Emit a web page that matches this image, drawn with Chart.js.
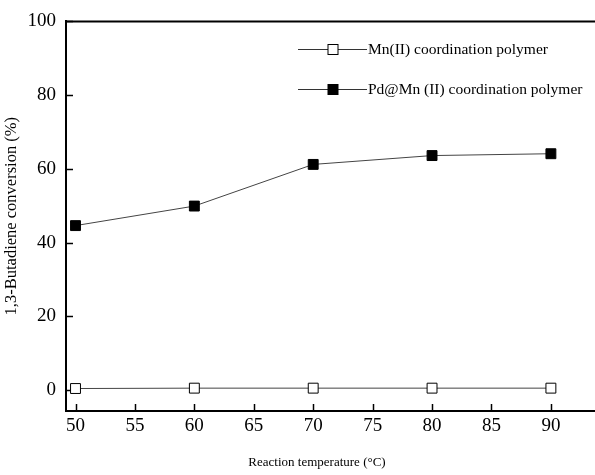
<!DOCTYPE html>
<html>
<head>
<meta charset="utf-8">
<script src="https://cdn.jsdelivr.net/npm/chart.js@4"></script>
<style>
  html, body { margin: 0; padding: 0; background: #fff; overflow: hidden; }
  #wrap { width: 595px; height: 475px; overflow: hidden; }
</style>
</head>
<body>
<div id="wrap"><canvas id="chart" width="610" height="475"></canvas></div>
<script>
// data
const temps = [50, 60, 70, 80, 90];
const mnConv = [0.4, 0.5, 0.5, 0.5, 0.5];
const pdConv = [44.6, 49.9, 61.2, 63.6, 64.1];
const xTicks = [50, 55, 60, 65, 70, 75, 80, 85, 90];
const yTicks = [0, 20, 40, 60, 80, 100];
const seriesNames = ['Mn(II) coordination polymer', 'Pd@Mn (II) coordination polymer'];

const serif = "'Liberation Serif', 'Times New Roman', serif";

function toPoints(ys) {
    return temps.map((t, i) => ({ x: t, y: ys[i] }));
}

// frame top line, inward ticks, legend and x title
const extras = {
    id: 'extras',
    beforeDatasetsDraw(chart) {
        const ctx = chart.ctx;
        const a = chart.chartArea;
        const xs = chart.scales.x, ys = chart.scales.y;
        ctx.save();
        ctx.strokeStyle = '#000';
        ctx.lineWidth = 2;
        ctx.beginPath();
        ctx.moveTo(a.left - 1, a.top);
        ctx.lineTo(a.right + 2, a.top);
        ctx.stroke();
        ctx.lineWidth = 1.5;
        xTicks.forEach(v => {
            const px = Math.round(xs.getPixelForValue(v)) + 0.5;
            ctx.beginPath();
            ctx.moveTo(px, a.bottom);
            ctx.lineTo(px, a.bottom - 7);
            ctx.stroke();
        });
        yTicks.forEach(v => {
            const py = Math.round(ys.getPixelForValue(v)) + 0.5;
            ctx.beginPath();
            ctx.moveTo(a.left, py);
            ctx.lineTo(a.left + 7, py);
            ctx.stroke();
        });
        ctx.restore();
    },
    afterDraw(chart) {
        const ctx = chart.ctx;
        ctx.save();
        const rows = [49, 89];
        chart.data.datasets.forEach((ds, i) => {
            const y = rows[i] + 0.5;
            ctx.strokeStyle = '#333';
            ctx.lineWidth = 1;
            ctx.beginPath();
            ctx.moveTo(298, y);
            ctx.lineTo(367, y);
            ctx.stroke();
            ctx.fillStyle = ds.pointBackgroundColor;
            ctx.fillRect(328, y - 5, 10, 10);
            ctx.strokeStyle = '#000';
            ctx.strokeRect(328, y - 5, 10, 10);
            ctx.fillStyle = '#000';
            ctx.font = '15.5px ' + serif;
            ctx.textBaseline = 'middle';
            ctx.textAlign = 'left';
            ctx.fillText(ds.label, 368, y);
        });
        ctx.font = '13px ' + serif;
        ctx.textAlign = 'center';
        ctx.textBaseline = 'middle';
        ctx.fillText('Reaction temperature (°C)', 317, 463);
        ctx.restore();
    }
};

const ctx = document.getElementById('chart').getContext('2d');
const chart = new Chart(ctx, {
    type: 'line',
    data: {
        datasets: [{
            label: seriesNames[0],
            data: toPoints(mnConv),
            borderColor: '#444',
            borderWidth: 1,
            pointStyle: 'rect',
            pointRadius: 7,
            pointBackgroundColor: '#fff',
            pointBorderColor: '#000',
            pointBorderWidth: 1
        }, {
            label: seriesNames[1],
            data: toPoints(pdConv),
            borderColor: '#444',
            borderWidth: 1,
            pointStyle: 'rect',
            pointRadius: 7,
            pointBackgroundColor: '#000',
            pointBorderColor: '#000',
            pointBorderWidth: 1
        }]
    },
    options: {
        responsive: false,
        animation: false,
        layout: { padding: { top: 21, right: 0, left: 0, bottom: 0 } },
        plugins: { legend: { display: false }, tooltip: { enabled: false } },
        scales: {
            x: {
                type: 'linear',
                min: 49.2,
                max: 94.3,
                afterBuildTicks: s => { s.ticks = xTicks.map(v => ({ value: v })); },
                afterFit: s => { s.height = 64; },
                grid: { display: false, drawTicks: false },
                border: { display: true, color: '#000', width: 2 },
                ticks: {
                    color: '#000',
                    padding: 4,
                    maxRotation: 0,
                    font: { family: serif, size: 19 }
                }
            },
            y: {
                type: 'linear',
                min: -5.7,
                max: 100,
                afterBuildTicks: s => { s.ticks = yTicks.map(v => ({ value: v })); },
                afterFit: s => { s.width = 66; },
                grid: { display: false, drawTicks: false },
                border: { display: true, color: '#000', width: 2 },
                title: {
                    display: true,
                    text: '1,3-Butadiene conversion (%)',
                    color: '#000',
                    padding: { top: 2, bottom: 0 },
                    font: { family: serif, size: 16.5 }
                },
                ticks: {
                    color: '#000',
                    padding: 10,
                    font: { family: serif, size: 19 }
                }
            }
        }
    },
    plugins: [extras]
});
</script>
</body>
</html>
